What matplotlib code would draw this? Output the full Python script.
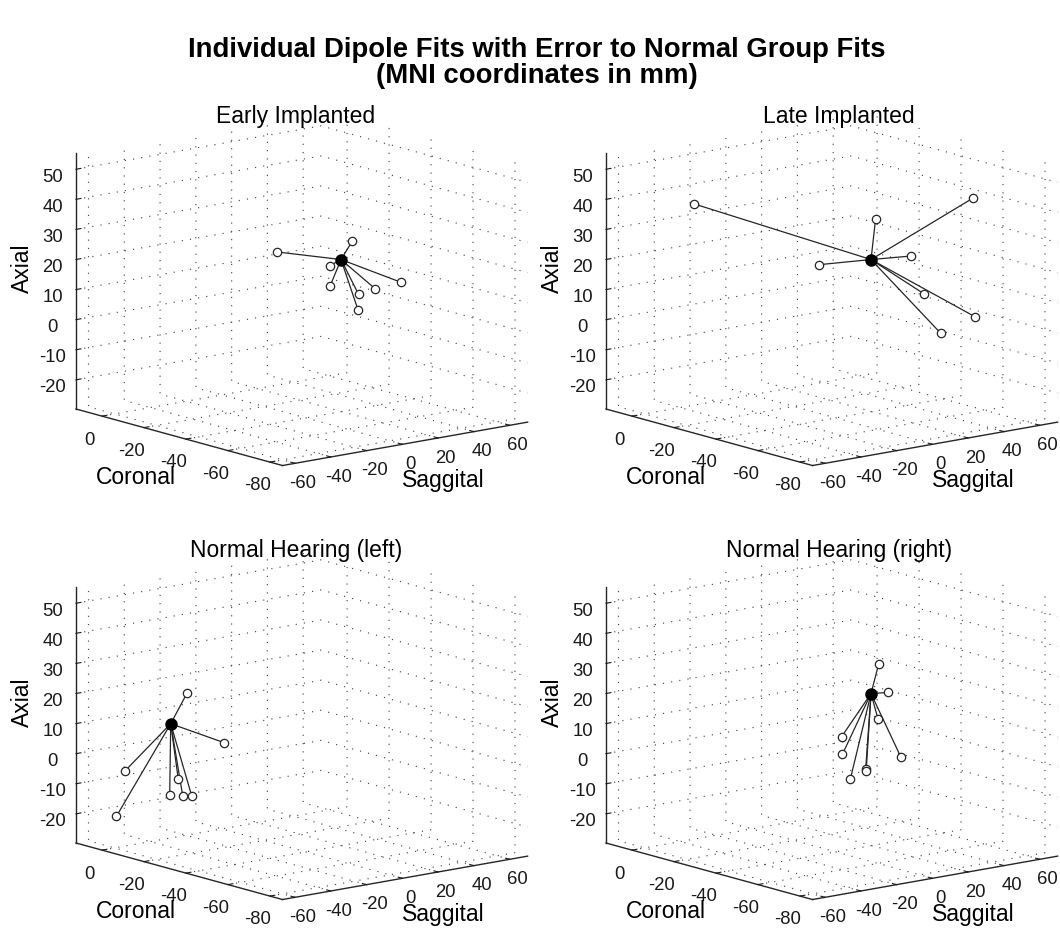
import numpy as np
import matplotlib
matplotlib.use("Agg")
import matplotlib.pyplot as plt
from mpl_toolkits.mplot3d import proj3d

plt.rcParams['font.family'] = ['Liberation Sans', 'DejaVu Sans']
plt.rcParams['axes.unicode_minus'] = False

# axis ranges (MNI, mm)
XLIM = (-67, 70)      # Saggital
YLIM = (-86, 12.4)    # Coronal
ZLIM = (-29.7, 55.5)  # Axial
XTICKS = [-60, -40, -20, 0, 20, 40, 60]
YTICKS = [-80, -60, -40, -20, 0]
ZTICKS = [-20, -10, 0, 10, 20, 30, 40, 50]

# normal group fits
right_group = [49.0, -15.0, 13.0]
left_group = [-46.2, -15.0, 13.0]

# individual dipole fits (x = saggital, y = coronal, z = axial)
early_x = [24.7, 49.4, 51.0, 46.5, 50.6, 55.1, 56.4, 64.7]
early_y = [-5, -20, -8, -12, -22, -18, -25, -30]
early_z = [16.2, 20.0, 9.4, 4.0, 2.6, -4.0, 4.4, 6.7]

late_x = [-26.7, 57.4, 65.2, 56.2, 31.8, 60.8, 60.3, 58.7]
late_y = [5, -10, -50, -28, -5, -30, -55, -40]
late_z = [35.7, 24.6, 38.5, 15.9, 11.2, 3.3, 0.4, -7.8]

nhl_x = [-43.0, -40.0, -54.1, -53.1, -42.0, -40.9, -45.3, -46.1]
nhl_y = [-20, -35, 0, 5, -15, -10, -20, -25]
nhl_z = [23.7, 9.9, -4.7, -20.9, -5.8, -12.1, -10.3, -9.3]

nhr_x = [49.8, 62.2, 41.2, 50.2, 44.7, 43.3, 40.5, 43.6, 42.3]
nhr_y = [-18, -12, -25, 0, -5, -10, -20, -17, -35]
nhr_z = [23.4, 11.4, 7.2, -4.3, -8.7, -15.8, -10.1, -11.7, -3.7]

titles = ['Early Implanted', 'Late Implanted',
          'Normal Hearing (left)', 'Normal Hearing (right)']
groups = [right_group, right_group, left_group, right_group]
fits = [(early_x, early_y, early_z), (late_x, late_y, late_z),
        (nhl_x, nhl_y, nhl_z), (nhr_x, nhr_y, nhr_z)]

W, H = 1060, 935
fig = plt.figure(figsize=(W / 100, H / 100), dpi=100)

BOX = (314.7, 329.7, 262.9)
ELEV, AZIM = 12.72, -128.81


def corner_px(ax):
    # left vertical edge of the box (where the Axial axis sits)
    xs = np.array([XLIM[0], XLIM[0]])
    ys = np.array([YLIM[1], YLIM[1]])
    zs = np.array([ZLIM[0], ZLIM[1]])
    px, py, _ = proj3d.proj_transform(xs, ys, zs, ax.get_proj())
    return ax.transData.transform(np.column_stack([px, py]))


def place(ax, x0, y0, zlen):
    ax.set_box_aspect(BOX, zoom=1.0)
    fig.canvas.draw()
    p = corner_px(ax)
    ax.set_box_aspect(BOX, zoom=zlen / (p[1, 1] - p[0, 1]))
    fig.canvas.draw()
    p = corner_px(ax)
    pos = ax.get_position(original=True)
    ax.set_position([pos.x0 + (x0 - p[0, 0]) / W,
                     pos.y0 + ((H - y0) - p[0, 1]) / H,
                     pos.width, pos.height])


def style(ax):
    ax.set_proj_type('ortho')
    ax.view_init(elev=ELEV, azim=AZIM)
    ax.set_xlim(XLIM)
    ax.set_ylim(YLIM)
    ax.set_zlim(ZLIM)
    ax.set_xticks(XTICKS)
    ax.set_yticks(YTICKS)
    ax.set_zticks(ZTICKS)
    for axis in (ax.xaxis, ax.yaxis, ax.zaxis):
        axis.set_pane_color((1, 1, 1, 0))
        axis.pane.set_edgecolor((1, 1, 1, 0))
        axis._axinfo['grid'].update(color='0.3', linewidth=0.85,
                                    linestyle=(0, (1, 6)))
        axis._axinfo['tick'].update(inward_factor=0.0, outward_factor=0.25)
        axis.line.set_color('0.15')
        axis.line.set_linewidth(1.0)
    ax.tick_params(axis='both', labelsize=13.3, colors='0.1')
    ax.xaxis.set_tick_params(pad=-1.5)
    ax.yaxis.set_tick_params(pad=1)
    ax.zaxis.set_tick_params(labelsize=13.3, pad=1)
    ax.patch.set_alpha(0)


for i, (title, g, (xs, ys, zs)) in enumerate(zip(titles, groups, fits)):
    col, row = i % 2, i // 2
    ax = fig.add_axes([0.5 * col, 0.5 - 0.5 * row, 0.5, 0.5],
                      projection='3d')
    style(ax)
    for x, y, z in zip(xs, ys, zs):
        ax.plot([g[0], x], [g[1], y], [g[2], z], color='0.15', lw=0.9)
    ax.plot(xs, ys, zs, 'o', mfc='white', mec='0.15', mew=0.9, ms=6,
            ls='none')
    ax.plot([g[0]], [g[1]], [g[2]], 'o', color='k', ms=8)
    place(ax, 76 + 530 * col, 409 + 434 * row, 256.3)

    ox, oy = 530 * col, 434 * row
    tx = 296 if col == 0 else 309
    fig.text((tx + ox) / W, 1 - (117 + oy) / H, title, ha='center',
             va='center', fontsize=16.5)
    fig.text((22 + ox) / W, 1 - (268 + oy) / H, 'Axial', rotation=90,
             ha='center', va='center', fontsize=16.5)
    fig.text((136 + ox) / W, 1 - (477 + oy) / H, 'Coronal', ha='center',
             va='center', fontsize=16.5)
    fig.text((443 + ox) / W, 1 - (481 + oy) / H, 'Saggital', ha='center',
             va='center', fontsize=16.5)

fig.text(537 / W, 1 - 50 / H,
         'Individual Dipole Fits with Error to Normal Group Fits',
         ha='center', va='center', fontsize=19.8, fontweight='bold')
fig.text(537 / W, 1 - 76 / H, '(MNI coordinates in mm)',
         ha='center', va='center', fontsize=19.8, fontweight='bold')

fig.savefig('out.png', dpi=100)
